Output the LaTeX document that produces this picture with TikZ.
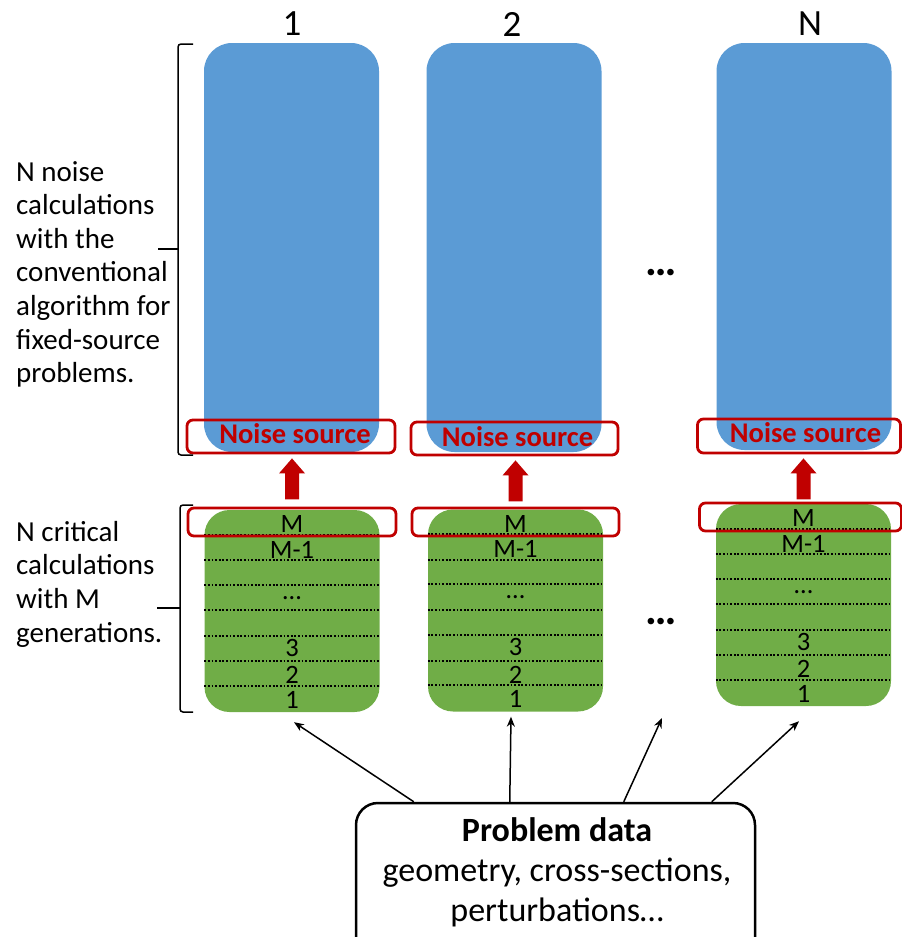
\documentclass[tikz,border=0pt]{standalone}
\usepackage{fontspec}
\setmainfont{Carlito}
\usetikzlibrary{arrows.meta,calc}
\definecolor{bluebox}{HTML}{5B9BD5}
\definecolor{greenbox}{HTML}{70AD47}
\definecolor{darkred}{HTML}{C00000}
\newcommand\setfs[2]{\fontsize{#1}{#2}\selectfont}
\begin{document}
\begin{tikzpicture}[x=1pt,y=-1pt,
  calcbox/.style={rectangle, rounded corners=28pt, fill=bluebox, inner sep=0pt, minimum width=175pt},
  genbox/.style={rectangle, rounded corners=25pt, fill=greenbox, inner sep=0pt, minimum width=175pt, minimum height=202pt},
  redframe/.style={rectangle, draw=darkred, line width=2.8pt, rounded corners=6pt, inner sep=0pt},
  noiselbl/.style={text=darkred, font=\setfs{28.5}{33}\bfseries, inner sep=0pt},
  genlbl/.style={font=\setfs{26.5}{30}, inner sep=0pt},
  toplbl/.style={font=\setfs{37}{42}, inner sep=0pt},
  dotline/.style={line width=1.8pt, dash pattern=on 1.8pt off 1.8pt},
  datarrow/.style={line width=1.5pt, -{Stealth[length=10pt,width=8pt]}},
  sidetxt/.style={font=\setfs{29}{33.6}, align=left, inner sep=0pt, anchor=north west},
  bracepath/.style={line width=1.5pt, rounded corners=3pt},
  dotsbig/.style={font=\setfs{44}{50}\bfseries, inner sep=0pt},
  databox/.style={rectangle, draw, line width=2.5pt, rounded corners=22pt, inner sep=0pt, minimum width=399pt, minimum height=160pt},
]
\useasboundingbox (0,0) rectangle (902,937);

% top labels
\node[toplbl] (l1) at (292,24) {1};
\node[toplbl] (l2) at (512,24) {2};
\node[toplbl] (lN) at (810,24) {N};

% blue calculation boxes
\node[calcbox, minimum height=409pt] (b1) at (291.5,247.5) {};
\node[calcbox, minimum height=409pt] (b2) at (514,247.5) {};
\node[calcbox, minimum height=407pt] (bN) at (804,246.5) {};

% noise source frames
\node[redframe, minimum width=208pt, minimum height=33pt] (n1) at (291,436.5) {};
\node[redframe, minimum width=207pt, minimum height=33pt] (n2) at (514.5,438.5) {};
\node[redframe, minimum width=203pt, minimum height=34pt] (nN) at (799,436) {};
\node[noiselbl] (n1t) at (295,434) {Noise source};
\node[noiselbl] (n2t) at (517.5,437) {Noise source};
\node[noiselbl] (nNt) at (805.5,433) {Noise source};

% green generation boxes
\node[genbox] (g1) at (292,611) {};
\node[genbox] (g2) at (515.5,610.5) {};
\node[genbox] (gN) at (803.5,605) {};

\foreach \g in {g1,g2,gN} {
  \foreach \o in {25,50.5,75,100.5,126,151.5,176}
    \draw[dotline] ($(\g.north west)+(0,\o)$) -- ($(\g.north east)+(0,\o)$);
  \node[genlbl] (\g-m)  at ($(\g.north)+(0,14.5)$) {M};
  \node[genlbl] (\g-m1) at ($(\g.north)+(0,40)$) {M-1};
  \node[genlbl] (\g-d)  at ($(\g.north)+(0,88)$) {…};
  \node[genlbl] (\g-3)  at ($(\g.north)+(0,138)$) {3};
  \node[genlbl] (\g-2)  at ($(\g.north)+(0,165.5)$) {2};
  \node[genlbl] (\g-1)  at ($(\g.north)+(0,190)$) {1};
}

% M frames
\node[redframe, minimum width=208pt, minimum height=28pt] (m1) at (292,522) {};
\node[redframe, minimum width=207pt, minimum height=28pt] (m2) at (515.5,522) {};
\node[redframe, minimum width=202pt, minimum height=28pt] (mN) at (800.5,517) {};

% red up arrows
\foreach \n/\g in {n1/g1,n2/g2,nN/gN} {
  \coordinate (\n-tip) at (\n.south -| \g.north);
  \fill[darkred] ($(\n-tip)+(0,4)$) -- ($(\n-tip)+(13,19)$) -- ($(\n-tip)+(7,19)$)
     -- ($(\n-tip)+(7,45)$) -- ($(\n-tip)+(-7,45)$) -- ($(\n-tip)+(-7,19)$)
     -- ($(\n-tip)+(-13,19)$) -- cycle;
}

% ellipses
\node[dotsbig] (e1) at (661,273) {…};
\node[dotsbig] (e2) at (661,622) {…};

% braces
\draw[bracepath] (193,44) -- (178,44) -- (178,455) -- (193,455);
\draw[line width=1.5pt] (178,249) -- (158,249);
\draw[bracepath] (193,505) -- (180,505) -- (180,712) -- (193,712);
\draw[line width=1.5pt] (180,608) -- (157,608);

% side texts
\node[sidetxt] (t1) at (16,161) {N noise\\calculations\\with the\\conventional\\algorithm for\\fixed-source\\problems.};
\node[sidetxt] (t2) at (16,521) {N critical\\calculations\\with M\\generations.};

% problem data box
\node[databox] (pd) at (555.5,883) {};
\node[font=\setfs{34}{40}, align=center] (pdt) at (557,872) {\textbf{Problem data}\\geometry, cross-sections,\\perturbations…};

\coordinate (free3) at (662,718);
\draw[datarrow] ([xshift=59pt]pd.north west) -- ([xshift=2pt,yshift=-10pt]g1.south);
\draw[datarrow] ([xshift=155pt]pd.north west) -- ([xshift=-4.5pt,yshift=-5pt]g2.south);
\draw[datarrow] ([xshift=269pt]pd.north west) -- (free3);
\draw[datarrow] ([xshift=357pt]pd.north west) -- ([xshift=-4.5pt,yshift=-15pt]gN.south);
\end{tikzpicture}
\end{document}
